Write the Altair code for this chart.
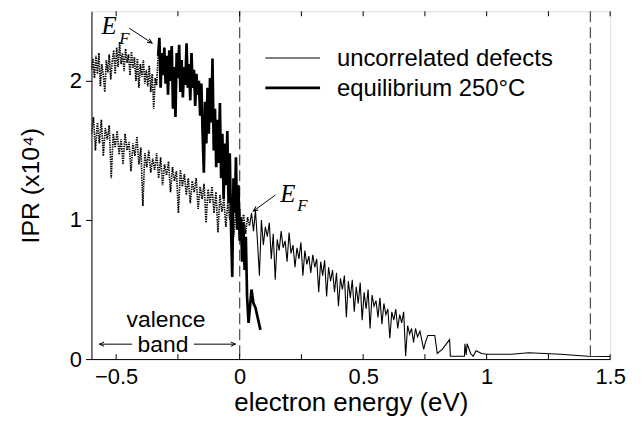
import altair as alt
import pandas as pd

# ---------------- data ----------------
# equilibrium 250C, valence band part (dotted)
eq_dot_x = [-0.600,-0.594,-0.588,-0.582,-0.576,-0.570,-0.564,-0.558,-0.552,-0.546,
            -0.540,-0.534,-0.528,-0.522,-0.516,-0.510,-0.504,-0.498,-0.492,-0.486,
            -0.480,-0.474,-0.468,-0.462,-0.456,-0.450,-0.444,-0.438,-0.432,-0.426,
            -0.420,-0.414,-0.408,-0.402,-0.396,-0.390,-0.384,-0.378,-0.372,-0.366,
            -0.360,-0.354,-0.348,-0.342,-0.336,-0.330]
eq_dot_y = [2.08,2.16,2.02,2.18,2.05,2.20,1.96,2.12,2.04,1.92,
            2.15,2.06,2.19,2.01,2.14,2.22,2.05,2.24,2.10,2.28,
            2.12,2.20,2.07,2.23,2.13,2.19,2.04,2.21,2.09,2.17,
            2.00,2.16,1.95,2.12,2.03,2.15,1.98,2.08,1.96,2.11,
            1.92,2.05,1.80,2.02,1.97,2.18]

# equilibrium 250C, above E_F (thick)
eq_x = [-0.330,-0.325,-0.320,-0.315,-0.310,-0.305,-0.300,-0.295,-0.290,-0.285,
        -0.280,-0.275,-0.270,-0.265,-0.260,-0.255,-0.250,-0.245,-0.240,-0.235,
        -0.230,-0.225,-0.220,-0.215,-0.210,-0.205,-0.200,-0.195,-0.190,-0.185,
        -0.180,-0.175,-0.170,-0.165,-0.160,-0.155,-0.150,-0.145,-0.140,-0.135,
        -0.130,-0.125,-0.120,-0.115,-0.110,-0.105,-0.100,-0.095,-0.090,-0.085,
        -0.080,-0.075,-0.070,-0.065,-0.060,-0.055,-0.050,-0.045,-0.040,-0.035,
        -0.030,-0.025,-0.020,-0.015,-0.010,-0.005,0.000,0.005,0.010,0.015,
        0.020,0.025,0.030,0.036,0.048,0.056,0.064,0.084]
eq_y = [2.18,2.31,1.95,2.20,2.04,2.24,1.98,2.18,1.90,2.22,
        2.00,2.25,1.80,2.10,1.74,2.20,2.02,2.26,1.92,2.15,
        1.88,2.10,1.97,2.27,1.95,2.12,1.86,2.20,1.95,2.08,
        1.82,2.05,1.90,2.00,1.75,1.98,1.62,1.34,1.85,1.55,
        1.95,1.62,2.02,1.70,2.16,1.50,1.80,1.38,1.72,1.41,
        1.84,1.30,1.62,1.15,1.55,1.25,1.64,1.12,1.48,0.95,
        0.59,1.30,1.05,1.45,0.93,1.25,0.85,1.02,0.70,0.98,
        0.64,0.88,0.45,0.26,0.50,0.40,0.37,0.21]

# uncorrelated defects, valence band part (dotted)
unc_dot_x = [-0.600,-0.592,-0.584,-0.576,-0.568,-0.560,-0.552,-0.544,-0.536,-0.528,
             -0.520,-0.512,-0.504,-0.496,-0.488,-0.480,-0.472,-0.464,-0.456,-0.448,
             -0.440,-0.432,-0.424,-0.416,-0.408,-0.400,-0.392,-0.384,-0.376,-0.368,
             -0.360,-0.352,-0.344,-0.336,-0.328,-0.320,-0.312,-0.304,-0.296,-0.288,
             -0.280,-0.272,-0.264,-0.256,-0.248,-0.240,-0.232,-0.224,-0.216,-0.208,
             -0.200,-0.192,-0.184,-0.176,-0.168,-0.160,-0.152,-0.144,-0.136,-0.128,
             -0.120,-0.112,-0.104,-0.096,-0.088,-0.080,-0.072,-0.064,-0.056,-0.048,
             -0.040,-0.032,-0.024,-0.016,-0.008,0.000,0.008,0.016,0.024,0.032,0.040]
unc_dot_y = [1.62,1.74,1.50,1.70,1.55,1.72,1.46,1.66,1.58,1.68,
             1.30,1.62,1.52,1.64,1.47,1.58,1.40,1.62,1.50,1.56,
             1.35,1.55,1.46,1.60,1.40,1.52,1.10,1.48,1.38,1.50,
             1.34,1.44,1.36,1.48,1.30,1.45,1.25,1.40,1.32,1.42,
             1.20,1.38,1.28,1.35,1.05,1.36,1.24,1.33,1.18,1.30,
             1.12,1.28,1.20,1.30,1.08,1.24,1.15,1.26,0.98,1.22,
             1.12,1.24,1.05,1.20,0.91,1.18,1.06,1.15,0.95,1.12,
             1.00,1.10,0.88,1.05,0.95,1.08,0.94,1.04,0.90,1.02,0.96]

# uncorrelated defects, above E_F (thin)
unc_x = [0.040,0.048,0.056,0.064,0.072,0.080,0.088,0.096,0.104,0.112,
         0.120,0.128,0.136,0.144,0.152,0.160,0.168,0.176,0.184,0.192,
         0.200,0.208,0.216,0.224,0.232,0.240,0.248,0.256,0.264,0.272,
         0.280,0.288,0.296,0.304,0.312,0.320,0.328,0.336,0.344,0.352,
         0.360,0.368,0.376,0.384,0.392,0.400,0.408,0.416,0.424,0.432,
         0.440,0.448,0.456,0.464,0.472,0.480,0.488,0.496,0.504,0.512,
         0.520,0.528,0.536,0.544,0.552,0.560,0.568,0.576,0.584,0.592,
         0.600,0.608,0.616,0.624,0.632,0.640,0.648,0.656,0.664,0.672,
         0.680,0.688,0.696,0.704,0.712,0.720,0.730,0.745,0.752,0.762,
         0.772,0.790,0.800,0.820,0.850,0.853,0.875,0.910,0.912,0.917,
         0.921,0.935,0.945,0.957,0.980,1.000,1.100,1.170,1.300,1.410,1.500]
unc_y = [0.96,1.05,0.92,1.07,0.85,0.60,1.00,0.82,0.95,0.88,
         0.98,0.72,0.90,0.57,0.86,0.78,0.92,0.80,0.85,0.70,
         0.91,0.76,0.82,0.66,0.80,0.72,0.84,0.60,0.78,0.68,
         0.74,0.62,0.75,0.66,0.72,0.48,0.70,0.60,0.71,0.45,
         0.66,0.56,0.64,0.48,0.62,0.38,0.58,0.50,0.60,0.30,
         0.56,0.44,0.57,0.34,0.52,0.40,0.55,0.28,0.48,0.36,
         0.50,0.22,0.46,0.38,0.42,0.30,0.44,0.25,0.40,0.32,
         0.36,0.15,0.34,0.28,0.36,0.22,0.32,0.26,0.34,0.02,
         0.24,0.18,0.22,0.12,0.22,0.16,0.20,0.07,0.12,0.17,
         0.17,0.17,0.04,0.07,0.14,0.02,0.02,0.02,0.11,0.03,
         0.11,0.04,0.02,0.06,0.04,0.035,0.035,0.045,0.035,0.02,0.018]

dash_x = [0.0, 1.42]
tick_x = [-0.5, -0.25, 0.0, 0.25, 0.5, 0.75, 1.0, 1.25, 1.5]
x_labels = [-0.5, 0, 0.5, 1, 1.5]
y_labels = [0, 1, 2]

SANS = "Liberation Sans"
SERIF = "Liberation Serif"
W, H = 522, 350

xs = alt.Scale(domain=[-0.6, 1.5], nice=False, zero=False)
ys = alt.Scale(domain=[0, 2.5], nice=False, zero=False)

x_axis = alt.Axis(values=x_labels, ticks=False, grid=False, format="~g",
                  labelFont=SANS, labelFontSize=22, labelPadding=8, labelFlush=False,
                  labelColor="black", domainColor="black",
                  title="electron energy (eV)", titleFont=SANS, titleFontSize=26,
                  titleFontWeight="normal", titleColor="black",
                  titleBaseline="alphabetic", titleY=52)
y_axis = alt.Axis(values=y_labels, tickSize=6, tickColor="black", grid=False, format="d",
                  labelFont=SANS, labelFontSize=22, labelPadding=4, labelColor="black",
                  domainColor="black",
                  title="IPR (x10⁴)", titleFont=SANS, titleFontSize=25,
                  titleFontWeight="normal", titleColor="black",
                  titleBaseline="middle", titleX=-61)


def line(xv, yv, **kw):
    df = pd.DataFrame({"x": xv, "y": yv})
    return alt.Chart(df).mark_line(color="black", clip=True, **kw).encode(
        x=alt.X("x:Q", scale=xs, axis=x_axis),
        y=alt.Y("y:Q", scale=ys, axis=y_axis),
    )


one = pd.DataFrame({"k": [0]})


def text(s, px, py, size, font=SANS, style="normal", align="left", baseline="alphabetic"):
    return alt.Chart(one).mark_text(text=s, fontSize=size, font=font, fontStyle=style,
                                    align=align, baseline=baseline, color="black").encode(
        x=alt.value(px), y=alt.value(py))


def seg(x1, y1, x2, y2, w=1.0):
    return alt.Chart(one).mark_rule(color="black", strokeWidth=w).encode(
        x=alt.value(x1), x2=alt.value(x2), y=alt.value(y1), y2=alt.value(y2))


def head(px, py, ang):
    return alt.Chart(one).mark_point(shape="M-1,-0.45L0,0L-1,0.45", filled=False,
                                     color="black", strokeWidth=1, size=90,
                                     angle=ang, opacity=1).encode(
        x=alt.value(px), y=alt.value(py))


dashes = alt.Chart(pd.DataFrame({"x": dash_x})).mark_rule(
    color="#555555", strokeWidth=1.3, strokeDash=[11, 5]).encode(x=alt.X("x:Q", scale=xs))

ticks_df = pd.DataFrame({"x": tick_x})
bot_ticks = alt.Chart(ticks_df).mark_rule(color="black", strokeWidth=1).encode(
    x=alt.X("x:Q", scale=xs), y=alt.value(H), y2=alt.value(H - 5))
top_ticks = alt.Chart(ticks_df).mark_rule(color="black", strokeWidth=1).encode(
    x=alt.X("x:Q", scale=xs), y=alt.value(0), y2=alt.value(5))

layers = [
    dashes,
    line(unc_dot_x, unc_dot_y, strokeWidth=1.7, strokeDash=[1.4, 1.0]),
    line(eq_dot_x, eq_dot_y, strokeWidth=1.7, strokeDash=[1.4, 1.0]),
    line(unc_x, unc_y, strokeWidth=1.1),
    line(eq_x, eq_y, strokeWidth=2.7),
    bot_ticks, top_ticks,
    # legend
    seg(175, 47, 230, 47, 1.1),
    seg(175, 77, 230, 77, 2.7),
    text("uncorrelated defects", 247, 55, 24),
    text("equilibrium 250°C", 247, 85, 24),
    # E_F labels
    text("E", 10, 23, 25, SERIF, "italic"),
    text("F", 28, 33, 17, SERIF, "italic"),
    seg(38, 17, 61, 32),
    head(61, 32, 33),
    text("E", 190, 192, 25, SERIF, "italic"),
    text("F", 207, 201, 17, SERIF, "italic"),
    seg(185, 185, 163, 201),
    head(163, 201, 144),
    # valence band
    text("valence", 75, 318, 23, align="center"),
    text("band", 72, 343, 23, align="center"),
    seg(8, 335, 41, 335),
    head(8, 335, 180),
    seg(103, 335, 145, 335),
    head(145, 335, 0),
]

chart = alt.layer(*layers).properties(
    width=W, height=H,
    autosize=alt.AutoSizeParams(type="none"),
    padding={"left": 84, "top": 2, "right": 24, "bottom": 61},
).configure_view(stroke="black", strokeWidth=1).configure(background="white")

chart.save("out.html", embed_options={"renderer": "svg", "actions": False})
